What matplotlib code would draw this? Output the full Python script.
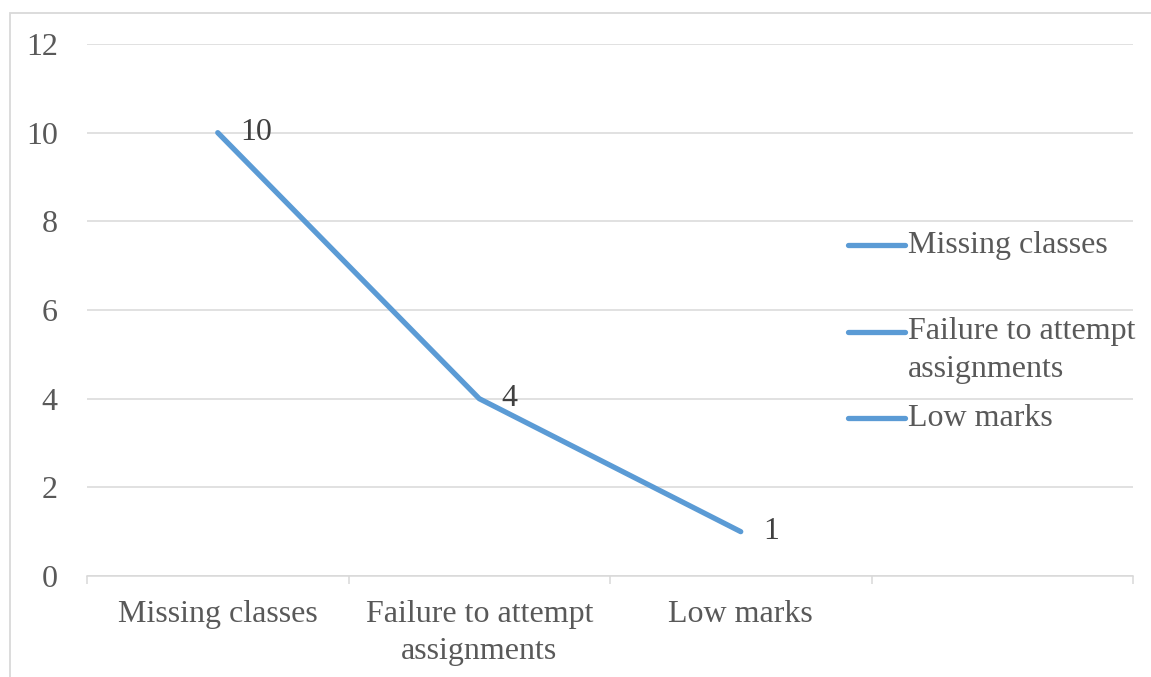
import matplotlib
matplotlib.use("Agg")
import matplotlib.pyplot as plt
from matplotlib.lines import Line2D
from matplotlib.patches import Rectangle

categories = ["Missing classes", "Failure to attempt\nassignments", "Low marks", ""]
values = [10, 4, 1]
legend_labels = ["Missing classes", "Failure to attempt\nassignments", "Low marks"]
y_ticks = [0, 2, 4, 6, 8, 10, 12]

line_color = "#5B9BD5"
grid_color = "#D9D9D9"
text_color = "#595959"
fs = 23

plt.rcParams["font.family"] = ["Liberation Serif", "DejaVu Serif"]
plt.rcParams["font.size"] = fs

W, H = 1151, 677
fig = plt.figure(figsize=(W / 100, H / 100), dpi=100)
ax = fig.add_axes([87 / W, 1 - 576 / H, (1133 - 87) / W, (576 - 44) / H])

# outer chart border (only top and left are in view)
fig.patches.append(Rectangle((10 / W, -0.1), 1.2, 1 - 13 / H + 0.1,
                             transform=fig.transFigure, fill=False,
                             edgecolor=grid_color, linewidth=1.3))

x = list(range(len(values)))
ax.plot(x, values, color=line_color, linewidth=3.8,
        solid_capstyle="round", solid_joinstyle="round", zorder=3)

for xi, v in zip(x, values):
    ax.annotate(str(v), (xi, v), xytext=(16, 0), textcoords="offset points",
                ha="left", va="center", color="#404040", fontsize=fs)

ax.set_xlim(-0.5, len(categories) - 0.5)
ax.set_ylim(0, 12)
ax.set_yticks(y_ticks)
ax.set_xticks(range(len(categories)))
ax.set_xticklabels(categories, linespacing=1.4)
ax.set_xticks([i - 0.5 for i in range(len(categories) + 1)], minor=True)

ax.grid(axis="y", color=grid_color, linewidth=1.1, zorder=0)
ax.set_axisbelow(True)

for s in ["left", "right", "top"]:
    ax.spines[s].set_visible(False)
ax.spines["bottom"].set_color(grid_color)
ax.spines["bottom"].set_linewidth(1.1)

ax.tick_params(axis="y", length=0, pad=21, labelcolor=text_color, labelsize=fs)
ax.tick_params(axis="x", which="major", length=0, pad=17,
               labelcolor=text_color, labelsize=fs)
ax.tick_params(axis="x", which="minor", length=6, width=1.1,
               color=grid_color, direction="out")

# legend on the right, one entry per category
entry_y = [245, 332, 418]
for lab, yp in zip(legend_labels, entry_y):
    yf = 1 - yp / H
    fig.lines.append(Line2D([848 / W, 905 / W], [yf, yf], transform=fig.transFigure,
                            color=line_color, linewidth=3.8, solid_capstyle="round"))
    n = lab.count("\n")
    yc = 1 - (yp + n * 37 / 2) / H
    fig.text(908 / W, yc, lab, ha="left", va="center", color=text_color,
             fontsize=fs, linespacing=1.4)

fig.savefig("out.png", dpi=100)
